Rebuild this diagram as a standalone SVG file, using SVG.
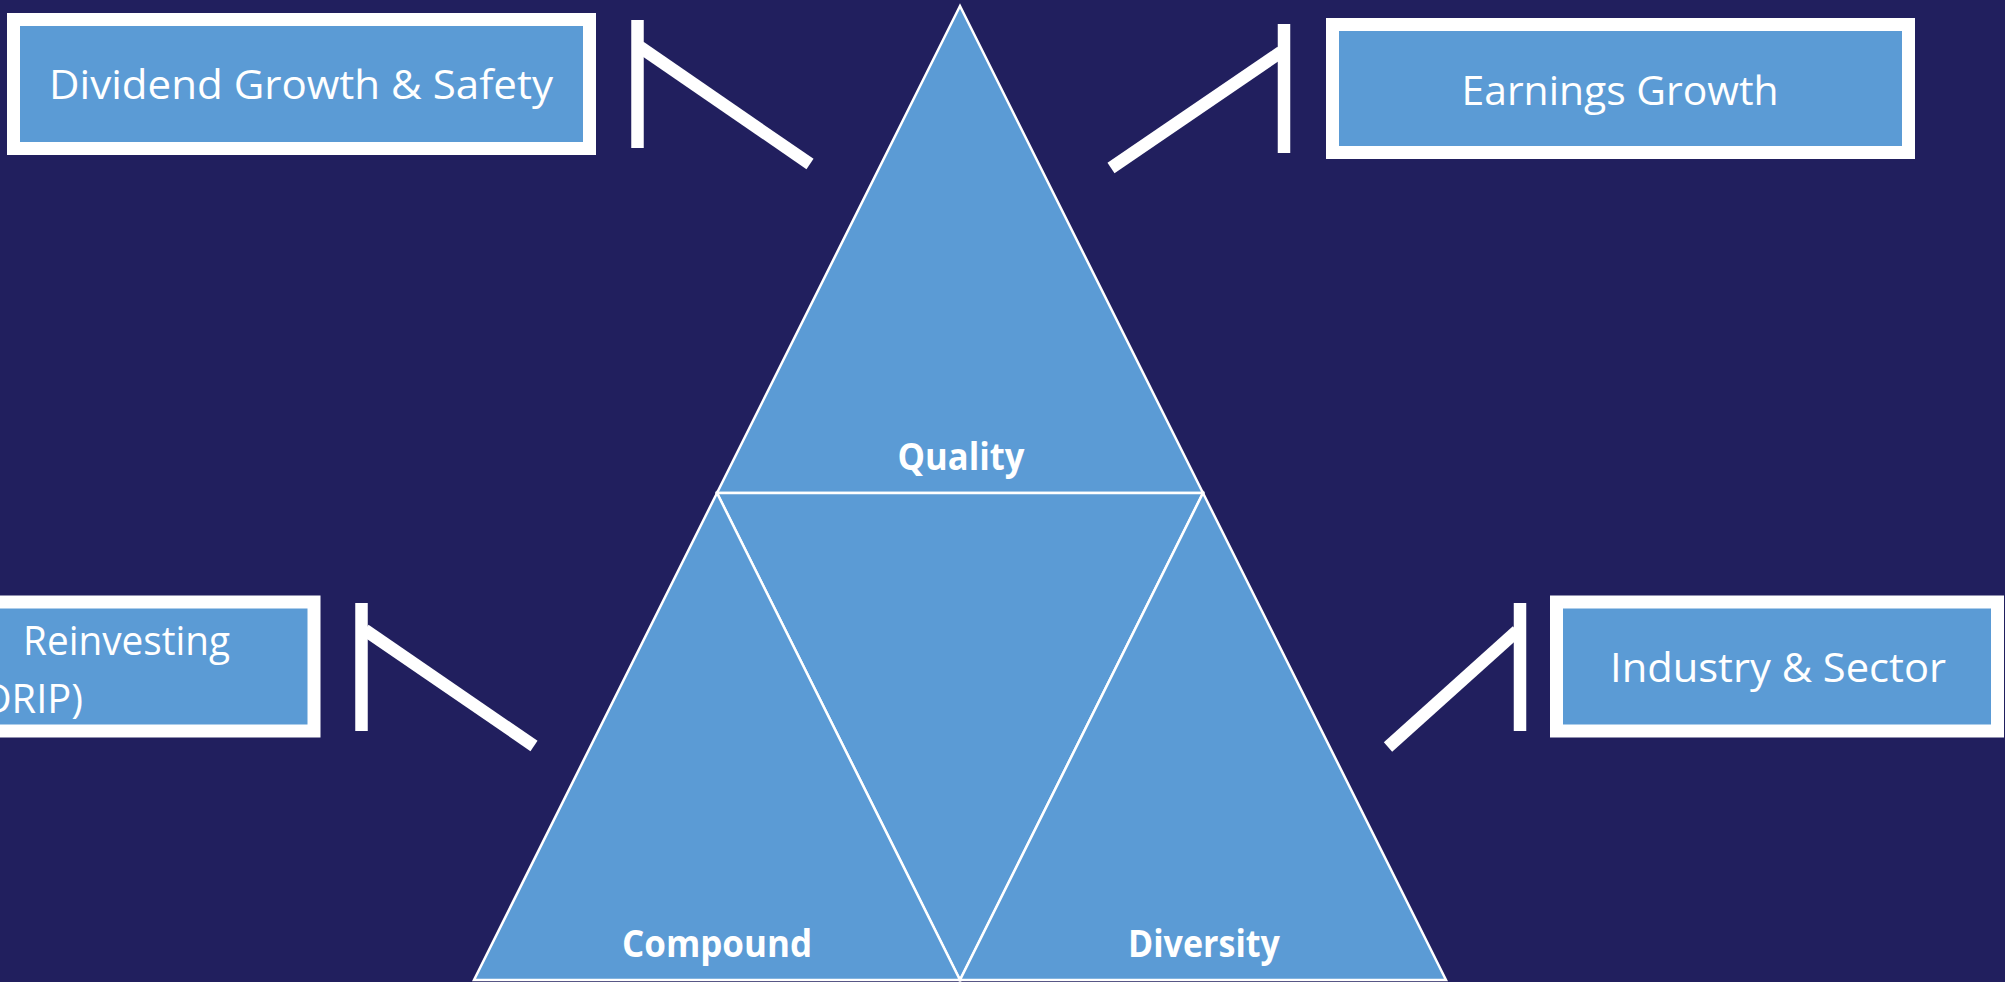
<svg xmlns="http://www.w3.org/2000/svg" width="2005" height="982" viewBox="0 0 2005 982">
<style>
.bg{fill:#211F5E}
.box{fill:#5B9BD5;stroke:#FFFFFF;stroke-width:13}
.tri{fill:#5B9BD5;stroke:#FFFFFF;stroke-width:2.5;stroke-linejoin:miter}
.lbl{font-family:"Open Sans","Liberation Sans",sans-serif;font-size:40px;fill:#FFFFFF}
.bold{font-family:"Open Sans","Liberation Sans",sans-serif;font-size:38px;font-weight:bold;fill:#FFFFFF}
.con{stroke:#FFFFFF;stroke-width:12.5;fill:none;stroke-linecap:butt}
</style>
<rect class="bg" x="0" y="0" width="2005" height="982"/>

<g id="pyramid">
  <g id="quality">
    <polygon class="tri" points="960,6 717,493 1203,493"/>
    <text class="bold" x="961" y="470" text-anchor="middle" textLength="127" lengthAdjust="spacingAndGlyphs">Quality</text>
  </g>
  <g id="center">
    <polygon class="tri" points="717,493 1203,493 960,980"/>
  </g>
  <g id="compound">
    <polygon class="tri" points="717,493 474,980 960,980"/>
    <text class="bold" x="717" y="957" text-anchor="middle" textLength="190" lengthAdjust="spacingAndGlyphs">Compound</text>
  </g>
  <g id="diversity">
    <polygon class="tri" points="1203,493 960,980 1446,980"/>
    <text class="bold" x="1204" y="957" text-anchor="middle" textLength="152" lengthAdjust="spacingAndGlyphs">Diversity</text>
  </g>
</g>

<g id="dividend-growth">
  <rect class="box" x="13.5" y="19.5" width="576" height="129"/>
  <text class="lbl" x="301" y="99" text-anchor="middle" textLength="504" lengthAdjust="spacingAndGlyphs">Dividend Growth &amp; Safety</text>
</g>

<g id="earnings-growth">
  <rect class="box" x="1332.5" y="24.5" width="576" height="128"/>
  <text class="lbl" x="1620" y="105" text-anchor="middle" textLength="317" lengthAdjust="spacingAndGlyphs">Earnings Growth</text>
</g>

<g id="drip">
  <rect class="box" x="-262" y="602" width="576" height="129"/>
  <text class="lbl" x="23" y="655" textLength="207" lengthAdjust="spacingAndGlyphs">Reinvesting</text>
  <text class="lbl" x="-29" y="713" textLength="112" lengthAdjust="spacingAndGlyphs">(DRIP)</text>
</g>

<g id="industry-sector">
  <rect class="box" x="1556.5" y="602" width="441" height="129"/>
  <text class="lbl" x="1778" y="682" text-anchor="middle" textLength="336" lengthAdjust="spacingAndGlyphs">Industry &amp; Sector</text>
</g>

<g id="connectors">
  <line class="con" x1="637.5" y1="20" x2="637.5" y2="148"/>
  <line class="con" x1="640" y1="47" x2="810" y2="164"/>
  <line class="con" x1="1284" y1="24" x2="1284" y2="153"/>
  <line class="con" x1="1281" y1="52" x2="1111" y2="168"/>
  <line class="con" x1="361.5" y1="603" x2="361.5" y2="731"/>
  <line class="con" x1="365" y1="630" x2="534" y2="746"/>
  <line class="con" x1="1520" y1="603" x2="1520" y2="731"/>
  <line class="con" x1="1517" y1="631" x2="1388" y2="747"/>
</g>
</svg>
